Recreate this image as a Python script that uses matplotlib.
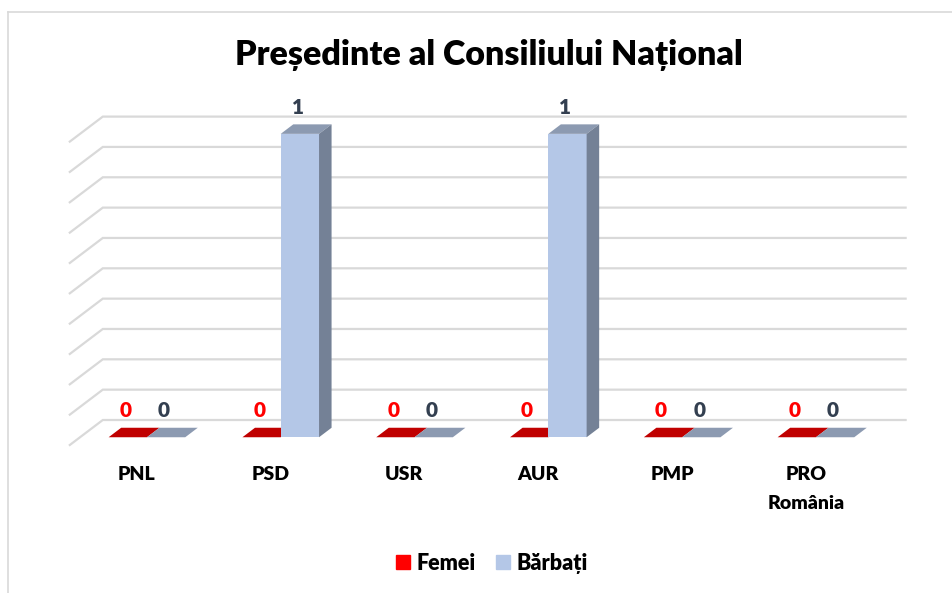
import matplotlib
matplotlib.use("Agg")
import matplotlib.pyplot as plt
import numpy as np
from matplotlib.patches import Polygon, Patch
from matplotlib.lines import Line2D

plt.rcParams['font.family'] = ['Lato', 'DejaVu Sans']
GR = 'heavy'

# data
titlu = "Președinte al Consiliului Național"
partide = ["PNL", "PSD", "USR", "AUR", "PMP", "PRO\nRomânia"]
femei = [0, 0, 0, 0, 0, 0]
barbati = [0, 1, 0, 1, 0, 0]
serii = ["Femei", "Bărbați"]
grila = np.arange(0, 1.01, 0.1)

# pixel layout of the fake 3d box
W, H = 953, 593
x0px, step = 136.7, 133.8   # front centre of first category, category spacing
y0px, unit = 445.0, 303.4   # front floor line, pixels per unit
DX = 33 / step              # full depth offset, data units
DY = 25 / unit
D0, D1 = 0.31, 0.69         # bar front / back depth
w = 38.3 / step

def P(x, v, d):
    return (x + d * DX, v + d * DY)

fig = plt.figure(figsize=(W / 100, H / 100), dpi=100)
ax = fig.add_axes([0, 0, 1, 1])
ax.set_xlim(-x0px / step, (W - x0px) / step)
ax.set_ylim((y0px - H) / unit, y0px / unit)
ax.axis('off')

gcol = '#D9D9D9'
left, right = -0.5, len(partide) - 0.5
for v in grila:
    a, b = P(left, v, 0), P(left, v, 1)
    c = P(right, v, 1)
    ax.plot([a[0], b[0], c[0]], [a[1], b[1], c[1]], color=gcol, lw=1.6, zorder=1,
            solid_joinstyle='miter')

stiluri = [
    (femei, '#FF0000', '#C00000', '#A00000', '#FF0000'),
    (barbati, '#B4C7E7', '#8C9AB1', '#748196', '#333F50'),
]
for s, (vals, fata, sus, lat, lcol) in enumerate(stiluri):
    for i, v in enumerate(vals):
        xl = i - w + s * w
        ax.bar(xl + D0 * DX, v, width=w, bottom=D0 * DY, align='edge',
               color=fata, lw=0, zorder=3 + s)
        ax.add_patch(Polygon([P(xl, v, D0), P(xl + w, v, D0), P(xl + w, v, D1), P(xl, v, D1)],
                             closed=True, color=sus, lw=0, zorder=3 + s))
        if v > 0:
            ax.add_patch(Polygon([P(xl + w, 0, D0), P(xl + w, v, D0), P(xl + w, v, D1), P(xl + w, 0, D1)],
                                 closed=True, color=lat, lw=0, zorder=3 + s))
        ax.annotate(str(v), xy=P(xl + w / 2, v, D0), xytext=(-1.5, 19),
                    textcoords='offset points', ha='center', va='center',
                    color=lcol, fontsize=15, fontweight=GR, zorder=6)

for i, p in enumerate(partide):
    ax.text(i, (y0px - 466) / unit, p, ha='center', va='top', fontsize=14,
            fontweight=GR, color='black', linespacing=1.85)

fig.text(489 / W, 1 - 55 / H, titlu, ha='center', va='center', fontsize=24.5,
         fontweight=GR, color='black')

handles = [Patch(color='#FF0000', label=serii[0]), Patch(color='#B4C7E7', label=serii[1])]
fig.legend(handles=handles, loc='center', bbox_to_anchor=(492 / W, 1 - 563 / H), ncol=2,
           frameon=False, prop={'weight': GR, 'size': 15.5}, handlelength=0.65,
           handleheight=0.65, handletextpad=0.3, columnspacing=0.95)

# light chart border (cut off at right and bottom)
bx, by = 8.5 / W, 1 - 11.5 / H
fig.add_artist(Line2D([bx, bx], [0, by], color=gcol, lw=1.2))
fig.add_artist(Line2D([bx, 1], [by, by], color=gcol, lw=1.2))

fig.savefig('out.png', dpi=100)
